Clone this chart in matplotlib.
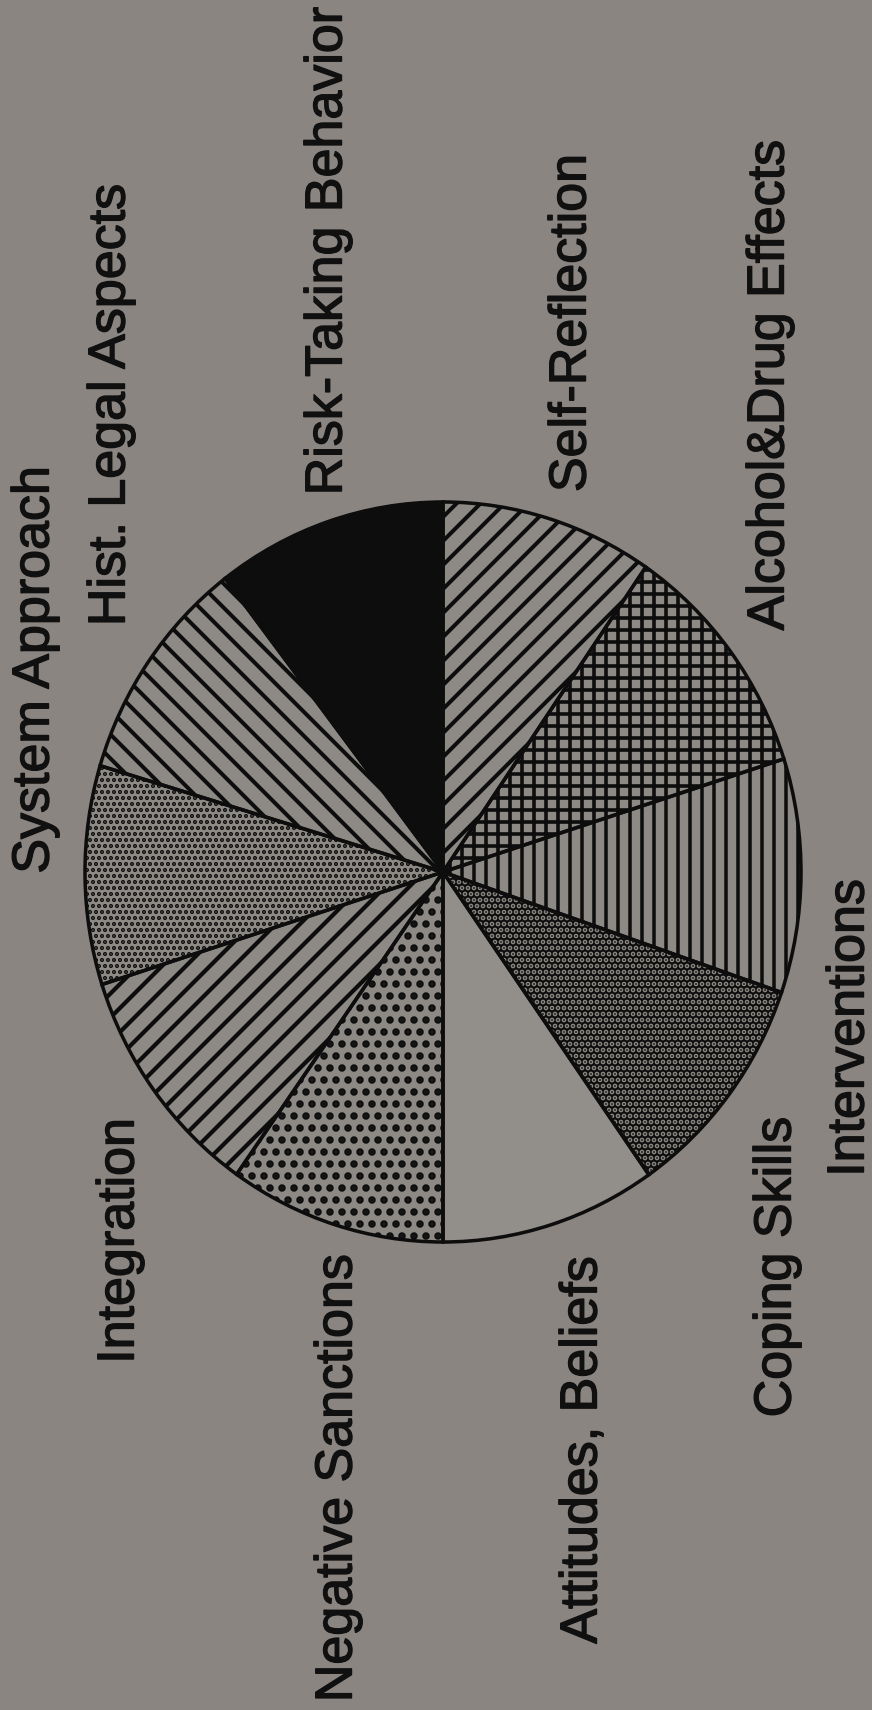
import matplotlib
matplotlib.use("Agg")
import matplotlib.pyplot as plt
import matplotlib.patheffects as pe

# ---- data -------------------------------------------------------------
categories = ["Risk-Taking Behavior", "Hist. Legal Aspects", "System Approach",
              "Integration", "Negative Sanctions", "Attitudes, Beliefs",
              "Coping Skills", "Interventions", "Alcohol&Drug Effects",
              "Self-Reflection"]
shares = [37.5, 35.8, 34.4, 37.1, 35.2, 35.1, 35.9, 36.8, 37.7, 34.5]

# ---- styles -----------------------------------------------------------
BG = "#8a8581"
PAPER = "#8d8985"
INK = "#0d0d0d"
faces = [INK, PAPER, PAPER, PAPER, PAPER, "#928e8a", INK, PAPER, PAPER, PAPER]
hatch_cols = [INK, INK, INK, INK, INK, INK, "#8b8783", INK, INK, INK]
hatches = [None, "\\", "..", "/", ".", None, "..", "|", "+", "/"]
hatch_lws = [1, 4.0, 2.8, 4.2, 5.0, 1, 3.4, 3.5, 3.6, 4.0]

# label centres in pixels (layout)
label_pos = [(328, 251), (111, 405), (35, 670), (120, 1241), (338, 1478),
             (583, 1450), (777, 1267), (850, 1028), (770, 385), (572, 323)]

W, H, DPI = 872, 1710, 72
cx, cy, rx, ry = 443, 872, 358, 370

plt.rcParams["hatch.linewidth"] = 4.0
fig = plt.figure(figsize=(W / DPI, H / DPI), dpi=DPI)
fig.patch.set_facecolor(BG)
ax = fig.add_axes([0, 0, 1, 1])
ax.set_facecolor(BG)

wedges, _ = ax.pie(shares, startangle=90, counterclock=True, radius=1,
                   wedgeprops=dict(linewidth=0))
for w, fc, hc, h, lw in zip(wedges, faces, hatch_cols, hatches, hatch_lws):
    w.set_facecolor(fc)
    w.set_edgecolor(hc)
    w.set_linewidth(0)
    if h:
        w.set_hatch(h)
        if hasattr(w, "set_hatch_linewidth"):
            w.set_hatch_linewidth(lw)

# outlines
ax.pie(shares, startangle=90, counterclock=True, radius=1,
       wedgeprops=dict(fill=False, edgecolor=INK, linewidth=3.5))

ax.set_aspect("auto")
ax.set_xlim(-cx / rx, (W - cx) / rx)
ax.set_ylim((cy - H) / ry, cy / ry)
ax.axis("off")

for lab, (x, y) in zip(categories, label_pos):
    fig.text(x / W, 1 - y / H, lab, rotation=90, ha="center", va="center",
             fontsize=52, family=["Liberation Sans", "DejaVu Sans"], color="#101010",
             path_effects=[pe.withStroke(linewidth=1.4, foreground="#101010")])

fig.savefig("out.png", dpi=DPI, facecolor=BG)
